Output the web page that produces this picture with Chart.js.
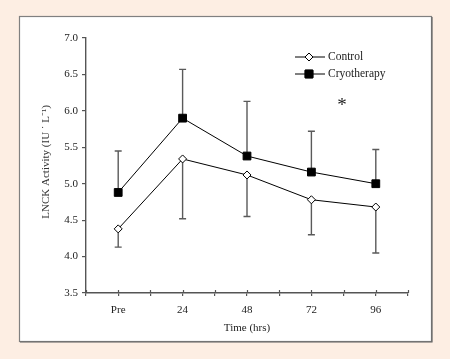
<!DOCTYPE html>
<html><head><meta charset="utf-8">
<script src="https://cdn.jsdelivr.net/npm/chart.js@4/dist/chart.umd.min.js"></script>
<style>html,body{margin:0;padding:0;background:#fdeee3;}</style>
</head><body>
<canvas id="c" width="450" height="359" style="display:block;width:450px;height:359px"></canvas>
<script>
const categories = ['Pre', '24', '48', '72', '96'];
const controlMean = [4.38, 5.34, 5.12, 4.78, 4.68];
const controlLower = [4.13, 4.52, 4.55, 4.30, 4.05];
const cryoMean = [4.88, 5.90, 5.38, 5.16, 5.00];
const cryoUpper = [5.45, 6.57, 6.13, 5.72, 5.47];
const seriesNames = ['Control', 'Cryotherapy'];
const yLabel = 'LNCK Activity (IU \u02D9 L\u207B\u00B9)';
const xLabel = 'Time (hrs)';
const FONT = "'Liberation Serif', 'Times New Roman', serif";

const toPts = arr => arr.map((v, i) => ({x: 2 * i + 1, y: v}));

const bgPlugin = {
  id: 'bg',
  beforeDraw(chart) {
    const c = chart.ctx;
    c.save();
    c.fillStyle = '#fdeee3';
    c.fillRect(0, 0, chart.width, chart.height);
    c.fillStyle = '#ffffff';
    c.fillRect(19, 16, 413, 326);
    c.strokeStyle = '#808080';
    c.lineWidth = 1.2;
    c.strokeRect(19.5, 16.5, 412, 325);
    c.strokeStyle = '#666';
    c.beginPath(); c.moveTo(432, 17); c.lineTo(432, 342); c.lineTo(20, 342); c.stroke();
    c.restore();
  }
};

const errPlugin = {
  id: 'err',
  beforeDatasetsDraw(chart) {
    const c = chart.ctx, xs = chart.scales.x, ys = chart.scales.y;
    c.save();
    c.strokeStyle = '#5a5a5a';
    c.lineWidth = 1.4;
    const draw = (means, ends) => {
      means.forEach((m, i) => {
        const px = xs.getPixelForValue(2 * i + 1);
        const y0 = ys.getPixelForValue(m), y1 = ys.getPixelForValue(ends[i]);
        c.beginPath();
        c.moveTo(px, y0); c.lineTo(px, y1);
        c.moveTo(px - 3.5, y1); c.lineTo(px + 3.5, y1);
        c.stroke();
      });
    };
    draw(cryoMean, cryoUpper);
    draw(controlMean, controlLower);
    c.restore();
  },
  afterDraw(chart) {
    const c = chart.ctx, xs = chart.scales.x, ys = chart.scales.y, a = chart.chartArea;
    c.save();
    c.strokeStyle = '#555';
    c.lineWidth = 1.2;
    for (let v = 0; v <= 10; v++) {
      const px = Math.round(xs.getPixelForValue(v)) + 0.5;
      c.beginPath(); c.moveTo(px, a.bottom); c.lineTo(px, a.bottom - 3); c.stroke();
    }
    // y-axis title
    c.save();
    c.fillStyle = '#333';
    c.font = "11px " + FONT;
    c.textAlign = 'center';
    c.textBaseline = 'middle';
    c.translate(46, ys.getPixelForValue(5.3));
    c.rotate(-Math.PI / 2);
    c.fillText(yLabel, 0, 0);
    c.restore();
    // legend
    const items = [
      {y: 57, style: 'rectRot', fill: '#fff', r: 4},
      {y: 74, style: 'rect', fill: '#000', r: 5.5}
    ];
    items.forEach((it, k) => {
      c.strokeStyle = '#000'; c.lineWidth = 1;
      c.beginPath(); c.moveTo(295, it.y); c.lineTo(325, it.y); c.stroke();
      Chart.helpers.drawPoint(c, {pointStyle: it.style, radius: it.r, borderWidth: 1}, 309, it.y);
      c.fillStyle = it.fill; c.strokeStyle = '#000';
      c.fill(); c.stroke();
      c.fillStyle = '#222';
      c.font = "11.5px " + FONT;
      c.textBaseline = 'middle';
      c.textAlign = 'left';
      c.fillText(seriesNames[k], 328, it.y);
    });
    c.font = "19px " + FONT;
    c.textAlign = 'center';
    c.textBaseline = 'middle';
    c.fillText('*', 342, 106);
    c.restore();
  }
};

new Chart(document.getElementById('c'), {
  type: 'line',
  data: {
    datasets: [
      {label: seriesNames[0], data: toPts(controlMean), borderColor: '#000', borderWidth: 1,
       pointStyle: 'rectRot', pointRadius: 4, pointBackgroundColor: '#fff', pointBorderColor: '#000', pointBorderWidth: 1},
      {label: seriesNames[1], data: toPts(cryoMean), borderColor: '#000', borderWidth: 1,
       pointStyle: 'rect', pointRadius: 5.5, pointBackgroundColor: '#000', pointBorderColor: '#000', pointBorderWidth: 1}
    ]
  },
  options: {
    responsive: false,
    animation: false,
    layout: {padding: {left: 0, top: 38, right: 42, bottom: 0}},
    plugins: {legend: {display: false}, tooltip: {enabled: false}},
    scales: {
      x: {
        type: 'linear', min: 0, max: 10,
        afterFit: s => { s.height = 66; },
        grid: {drawOnChartArea: false, tickLength: 3, color: '#555', lineWidth: 1.2},
        border: {color: '#555', width: 1.4},
        ticks: {stepSize: 1, autoSkip: false, maxRotation: 0, padding: 8, color: '#222',
          font: {family: FONT, size: 11},
          callback: v => (v % 2 === 1 ? categories[(v - 1) / 2] : '')},
        title: {display: true, text: xLabel, color: '#222', font: {family: FONT, size: 11},
          padding: {top: 0, bottom: 24}}
      },
      y: {
        min: 3.5, max: 7.0,
        afterFit: s => { s.width = 86; },
        grid: {drawOnChartArea: false, tickLength: 4, color: '#555', lineWidth: 1.2},
        border: {color: '#555', width: 1.4},
        ticks: {stepSize: 0.5, padding: 4, color: '#222', font: {family: FONT, size: 11},
          callback: v => v.toFixed(1)},
        title: {display: false, text: yLabel}
      }
    }
  },
  plugins: [bgPlugin, errPlugin]
});
</script>
</body></html>
